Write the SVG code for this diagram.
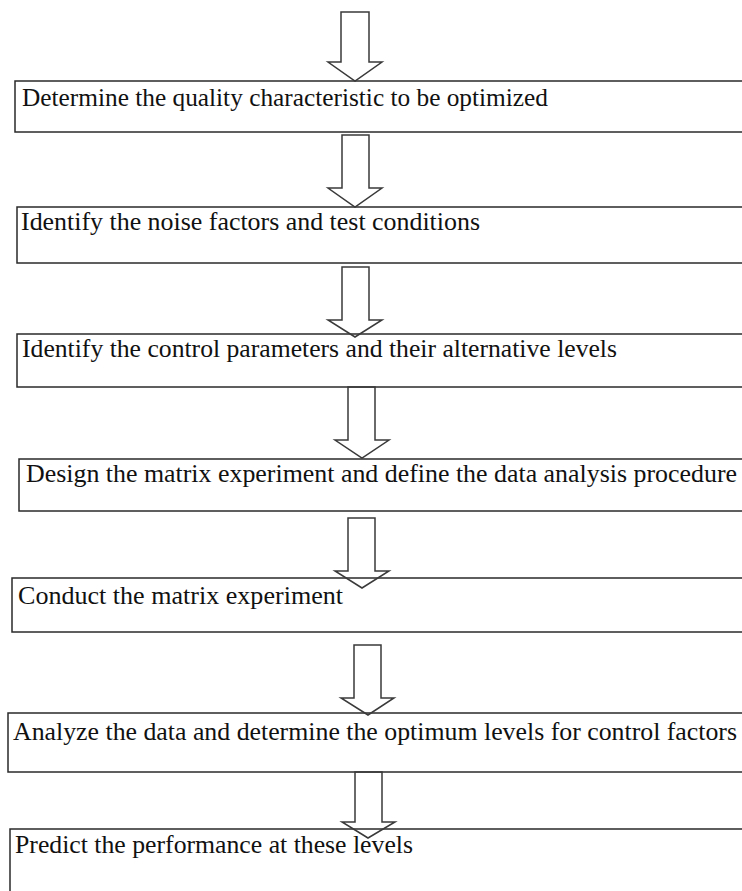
<svg xmlns="http://www.w3.org/2000/svg" width="742" height="891" viewBox="0 0 742 891">
<style>
.box{fill:#fff;stroke:#2a2a2a;stroke-width:1.5}
.lbl{font-family:"Liberation Serif",serif;font-size:25.7px;fill:#111}
.arr{fill:none;stroke:#3a3a3a;stroke-width:1.5;stroke-linejoin:miter}
</style>
<rect width="742" height="891" fill="#fff"/>
<g id="n1"><rect class="box" x="15" y="81" width="740" height="51"/><text class="lbl" x="22" y="106" textLength="526" lengthAdjust="spacingAndGlyphs">Determine the quality characteristic to be optimized</text></g>
<g id="n2"><rect class="box" x="17" y="207" width="740" height="56"/><text class="lbl" x="21" y="230" textLength="459" lengthAdjust="spacingAndGlyphs">Identify the noise factors and test conditions</text></g>
<g id="n3"><rect class="box" x="17" y="334" width="740" height="53"/><text class="lbl" x="22" y="357" textLength="595" lengthAdjust="spacingAndGlyphs">Identify the control parameters and their alternative levels</text></g>
<g id="n4"><rect class="box" x="19" y="459" width="740" height="52"/><text class="lbl" x="26" y="482" textLength="711" lengthAdjust="spacingAndGlyphs">Design the matrix experiment and define the data analysis procedure</text></g>
<g id="n5"><rect class="box" x="12" y="578" width="740" height="54"/><text class="lbl" x="18" y="604" textLength="325" lengthAdjust="spacingAndGlyphs">Conduct the matrix experiment</text></g>
<g id="n6"><rect class="box" x="8" y="713" width="740" height="59"/><text class="lbl" x="13" y="740" textLength="724" lengthAdjust="spacingAndGlyphs">Analyze the data and determine the optimum levels for control factors</text></g>
<g id="n7"><rect class="box" x="10" y="829" width="740" height="80"/><text class="lbl" x="15" y="853" textLength="398" lengthAdjust="spacingAndGlyphs">Predict the performance at these levels</text></g>
<g id="connectors">
<polygon class="arr" points="341,12 369,12 369,62 382,62 355,81 328,62 341,62"/>
<polygon class="arr" points="342,135 369,135 369,188 382,188 355,207 328,188 342,188"/>
<polygon class="arr" points="342,267 369,267 369,320 382,320 355,337 328,320 342,320"/>
<polygon class="arr" points="348,387 375,387 375,440 389,440 362,458 335,440 348,440"/>
<polygon class="arr" points="348,518 375,518 375,571 389,571 362,588 335,571 348,571"/>
<polygon class="arr" points="354,645 381,645 381,698 394,698 368,715 341,698 354,698"/>
<polygon class="arr" points="355,772 382,772 382,822 395,822 368,838 342,822 355,822"/>
</g>
</svg>
